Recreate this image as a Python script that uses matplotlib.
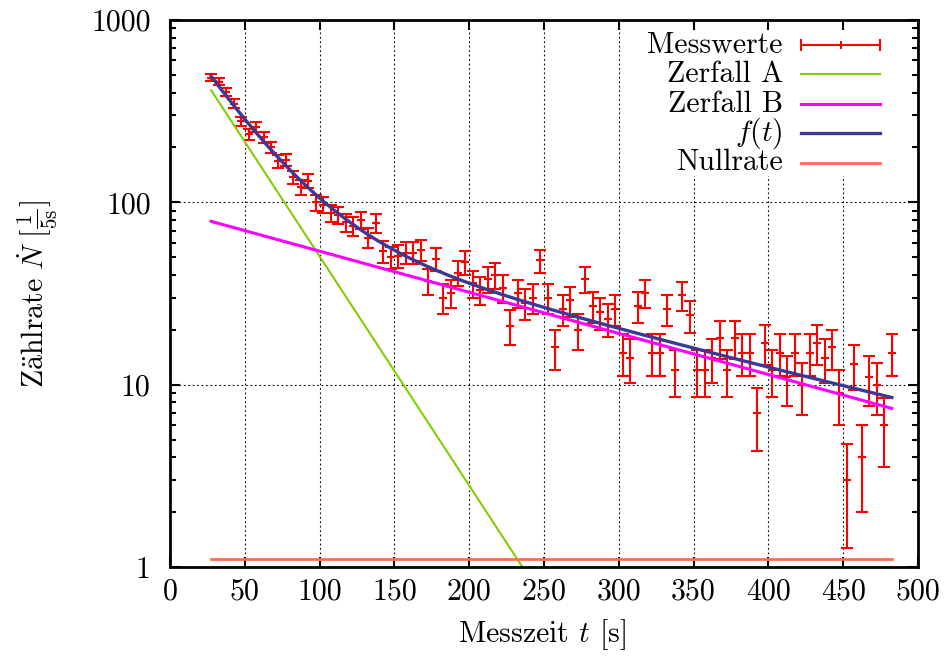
#zerfall zweier isotope, zaehlrate log-plot
import numpy as np
import matplotlib
matplotlib.use('Agg')
import matplotlib.pyplot as plt
from matplotlib.ticker import FixedLocator, FuncFormatter, MultipleLocator, NullFormatter
from matplotlib.patches import Rectangle

plt.rcParams['font.family'] = ['cmr10', 'DejaVu Serif']
plt.rcParams['mathtext.fontset'] = 'cm'
plt.rcParams['axes.formatter.use_mathtext'] = True
plt.rcParams['font.size'] = 21.5

#messzeit [s], mitte der 5s-intervalle
t_mess = [27.5, 32.5, 37.5, 42.5, 47.5, 52.5, 57.5, 62.5, 67.5, 72.5,
          77.5, 82.5, 87.5, 92.5, 97.5, 102.5, 107.5, 112.5, 117.5, 122.5,
          127.5, 132.5, 137.5, 142.5, 147.5, 152.5, 157.5, 162.5, 167.5, 172.5,
          177.5, 182.5, 187.5, 192.5, 197.5, 202.5, 207.5, 212.5, 217.5, 222.5,
          227.5, 232.5, 237.5, 242.5, 247.5, 252.5, 257.5, 262.5, 267.5, 272.5,
          277.5, 282.5, 287.5, 292.5, 297.5, 302.5, 307.5, 312.5, 317.5, 322.5,
          327.5, 332.5, 337.5, 342.5, 347.5, 352.5, 357.5, 362.5, 367.5, 372.5,
          377.5, 382.5, 387.5, 392.5, 397.5, 402.5, 407.5, 412.5, 417.5, 422.5,
          427.5, 432.5, 437.5, 442.5, 447.5, 452.5, 457.5, 462.5, 467.5, 472.5,
          477.5, 482.5]
#zaehlrate pro 5s
n_mess = [483, 459, 402, 348, 278, 236, 259, 227, 200, 168,
          171, 137, 121, 131, 100, 97, 87, 85, 78, 74,
          80, 64, 77, 54, 50, 51, 53, 53, 55, 37,
          49, 30, 32, 41, 47, 36, 33, 38, 40, 34,
          21, 32, 28, 30, 48, 30, 16, 26, 29, 20,
          38, 27, 25, 23, 26, 15, 14, 27, 32, 15,
          15, 26, 12, 31, 24, 12, 12, 14, 18, 12,
          18, 15, 15, 7, 17, 12, 15, 11, 15, 10,
          15, 17, 14, 16, 9, 3, 13, 4, 11, 10,
          6, 15]

#fit parameter
a0, lam_a = 913.0, 0.02894
b0, lam_b = 90.7, 0.005192
n_null = 1.1

t_mess = np.array(t_mess)
n_mess = np.array(n_mess, dtype=float)
err = np.sqrt(n_mess)

tt = np.linspace(t_mess[0], t_mess[-1], 600)
zerf_a = a0 * np.exp(-lam_a * tt)
zerf_b = b0 * np.exp(-lam_b * tt)
f_t = zerf_a + zerf_b + n_null
null = np.full_like(tt, n_null)

c_mess = '#ff0000'
c_a = '#80d000'
c_b = '#ff00ff'
c_f = '#3a3a96'
c_null = '#ff6a50'

fig = plt.figure(figsize=(9.47, 6.59), dpi=100)
ax = fig.add_axes([170/947, 92/659, 748/947, 547/659])
ax.set_yscale('log')
ax.set_xlim(0, 500)
ax.set_ylim(1, 1000)

#grid hinter allem
for gx in range(50, 500, 50):
    ax.axvline(gx, color='k', ls=(0, (1.5, 2.5)), lw=0.8, zorder=0.5)
for gy in [10, 100]:
    ax.axhline(gy, color='k', ls=(0, (1.5, 2.5)), lw=0.8, zorder=0.5)

ax.errorbar(t_mess, n_mess, yerr=err, fmt='+', color=c_mess, ms=6, mew=1.5,
            elinewidth=1.5, capsize=4, capthick=1.5, zorder=2)
ax.plot(tt, zerf_a, color=c_a, lw=1.5, zorder=2.1)
ax.plot(tt, zerf_b, color=c_b, lw=2.2, zorder=2.1)
ax.plot(tt, f_t, color=c_f, lw=2.4, zorder=2.2)
ax.plot(tt, null, color=c_null, lw=2.0, zorder=2.1)

#ticks
ax.xaxis.set_major_locator(MultipleLocator(50))
ax.xaxis.set_major_formatter(FuncFormatter(lambda v, p: '%d' % v))
ax.yaxis.set_major_locator(FixedLocator([1, 10, 100, 1000]))
ax.yaxis.set_major_formatter(FuncFormatter(lambda v, p: '%d' % v))
ax.yaxis.set_minor_locator(FixedLocator([m * d for d in [1, 10, 100] for m in range(2, 10)]))
ax.yaxis.set_minor_formatter(NullFormatter())
ax.tick_params(which='both', direction='in', top=True, right=True, width=1.5)
ax.tick_params(which='major', length=7)
ax.tick_params(which='minor', length=4)
ax.tick_params(axis='x', pad=8)
ax.tick_params(axis='y', pad=14)
for sp in ax.spines.values():
    sp.set_linewidth(2)
    sp.set_zorder(3)

ax.set_xlabel(r'Messzeit $t$ [s]', va='center')
ax.set_ylabel(r'$\mathrm{Z\ddot{a}hlrate}\ \dot{N}\ [\frac{1}{5\mathrm{s}}]$', va='center')
ax.xaxis.set_label_coords(0.497, -0.124)
ax.yaxis.set_label_coords(-0.178, 0.5)

#legende, opak wie gnuplot
ax.add_patch(Rectangle((0.62, 0.715), 0.369, 0.272, transform=ax.transAxes,
                       facecolor='white', edgecolor='none', zorder=1))
labels = ['Messwerte', 'Zerfall A', 'Zerfall B', r'$f(t)$', 'Nullrate']
colors = [c_mess, c_a, c_b, c_f, c_null]
widths = [1.5, 1.5, 2.2, 2.4, 2.0]
rows = [0.954, 0.901, 0.846, 0.793, 0.739]
x_txt, x1, x2 = 0.8195, 0.8436, 0.9492
for lab, col, lw, yy in zip(labels, colors, widths, rows):
    ax.text(x_txt, yy, lab, transform=ax.transAxes, ha='right', va='center', zorder=4)
    ax.plot([x1, x2], [yy, yy], color=col, lw=lw, transform=ax.transAxes, zorder=4)
ax.plot([x1, x2], [rows[0], rows[0]], ls='none', marker='|', ms=9, mew=1.5,
        color=c_mess, transform=ax.transAxes, zorder=4)
ax.plot([(x1 + x2) / 2], [rows[0]], ls='none', marker='|', ms=6, mew=1.5,
        color=c_mess, transform=ax.transAxes, zorder=4)

fig.savefig('out.png', dpi=100)
